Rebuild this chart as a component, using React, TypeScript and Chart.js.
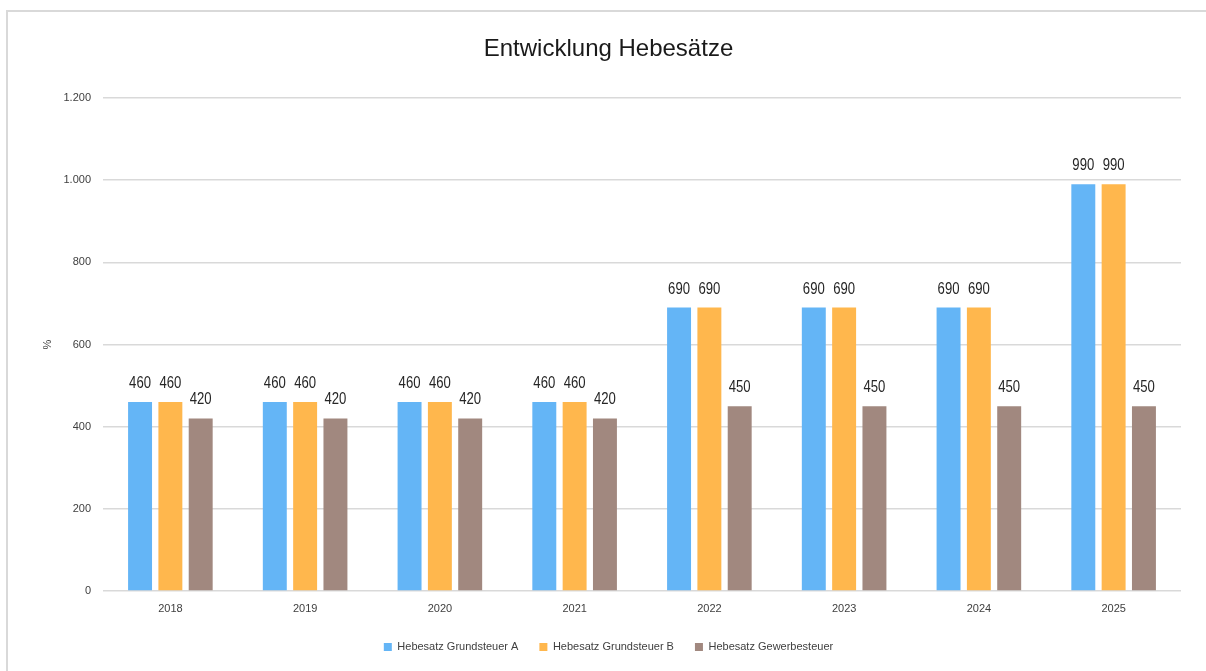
import React, { useEffect, useRef } from "react";
import { Chart, registerables } from "chart.js";

Chart.register(...registerables);

const categories = ["2018", "2019", "2020", "2021", "2022", "2023", "2024", "2025"];
const seriesNames = ["Hebesatz Grundsteuer A", "Hebesatz Grundsteuer B", "Hebesatz Gewerbesteuer"];
const grundsteuerA = [460, 460, 460, 460, 690, 690, 690, 990];
const grundsteuerB = [460, 460, 460, 460, 690, 690, 690, 990];
const gewerbesteuer = [420, 420, 420, 420, 450, 450, 450, 450];
const seriesColors = ["#64b5f6", "#ffb74d", "#a1887f"];
const titleText = "Entwicklung Hebesätze";
const yAxisTitle = "%";

const FONT = "'Liberation Sans', Arial, sans-serif";

function formatDe(v: number): string {
  return String(Math.round(v)).replace(/\B(?=(\d{3})+(?!\d))/g, ".");
}

const valueLabels = {
  id: "valueLabels",
  afterDatasetsDraw(chart: any) {
    const ctx = chart.ctx;
    ctx.save();
    ctx.fillStyle = "#262626";
    ctx.font = `16px ${FONT}`;
    ctx.textAlign = "center";
    ctx.textBaseline = "alphabetic";
    chart.data.datasets.forEach((ds: any, i: number) => {
      const meta = chart.getDatasetMeta(i);
      meta.data.forEach((el: any, j: number) => {
        const v = ds.data[j];
        ctx.save();
        ctx.translate(el.x, el.y - 14);
        ctx.scale(0.82, 1);
        ctx.fillText(formatDe(v), 0, 0);
        ctx.restore();
      });
    });
    ctx.restore();
  },
};

export default function App() {
  const canvasRef = useRef<HTMLCanvasElement | null>(null);

  useEffect(() => {
    if (!canvasRef.current) return;
    const datasets = [grundsteuerA, grundsteuerB, gewerbesteuer].map((d, i) => ({
      label: seriesNames[i],
      data: d,
      backgroundColor: seriesColors[i],
      borderWidth: 0,
      categoryPercentage: 0.675,
      barPercentage: 0.79,
    }));
    const chart = new Chart(canvasRef.current, {
      type: "bar",
      data: { labels: categories, datasets },
      plugins: [valueLabels],
      options: {
        animation: false,
        responsive: false,
        maintainAspectRatio: false,
        layout: { padding: { left: 28, right: 28, top: 0, bottom: 8.5 } },
        plugins: {
          tooltip: { enabled: false },
          title: {
            display: true,
            text: titleText,
            color: "#1a1a1a",
            font: { family: FONT, size: 24, weight: "normal" },
            padding: { top: 22.5, bottom: 34.7 },
          },
          legend: {
            position: "bottom",
            labels: {
              color: "#404040",
              font: { family: FONT, size: 11 },
              boxWidth: 8,
              boxHeight: 8,
              padding: 21,
            },
          },
        },
        scales: {
          x: {
            grid: { display: false },
            border: { display: false },
            ticks: { color: "#404040", font: { family: FONT, size: 11 }, padding: 3 },
            afterFit: (s: any) => {
              s.height = 29.5;
            },
          },
          y: {
            min: 0,
            max: 1200,
            ticks: {
              stepSize: 200,
              color: "#404040",
              font: { family: FONT, size: 11 },
              padding: 12,
              callback: (v: any) => formatDe(Number(v)),
            },
            grid: { color: "#d9d9d9", lineWidth: 1.5, drawTicks: false },
            border: { display: false },
            title: {
              display: true,
              text: yAxisTitle,
              color: "#404040",
              font: { family: FONT, size: 11 },
              padding: { top: 5, bottom: 0 },
            },
            afterFit: (s: any) => {
              s.width = 67;
            },
          },
        },
      },
    } as any);
    return () => chart.destroy();
  }, []);

  return (
    <div>
      <div
        style={{
          position: "fixed",
          left: 6,
          top: 10,
          width: 1220,
          height: 700,
          border: "2px solid #d9d9d9",
          boxSizing: "border-box",
        }}
      />
      <canvas
        ref={canvasRef}
        width={1201}
        height={659}
        style={{ position: "fixed", left: 8, top: 12, width: 1201, height: 659 }}
      />
    </div>
  );
}
